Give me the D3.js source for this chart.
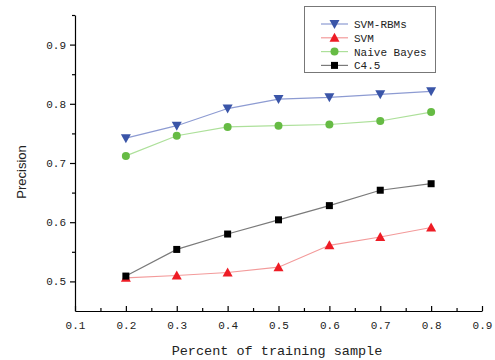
<!DOCTYPE html>
<html><head><meta charset="utf-8">
<script src="https://cdn.jsdelivr.net/npm/d3@7"></script>
<style>body{margin:0;background:#fff}svg{display:block}</style>
</head><body><svg id="c" width="495" height="360"></svg>
<script>
const xValues = [0.2, 0.3, 0.4, 0.5, 0.6, 0.7, 0.8];
const seriesNames = ["SVM-RBMs", "SVM", "Naive Bayes", "C4.5"];
const svmRbm = [0.742, 0.763, 0.792, 0.808, 0.811, 0.816, 0.821];
const svm = [0.506, 0.510, 0.515, 0.524, 0.561, 0.575, 0.591];
const naiveBayes = [0.712, 0.746, 0.761, 0.763, 0.765, 0.771, 0.786];
const c45 = [0.509, 0.554, 0.580, 0.604, 0.628, 0.654, 0.665];
const xTicks = [0.1, 0.2, 0.3, 0.4, 0.5, 0.6, 0.7, 0.8, 0.9];
const xMinor = [0.15, 0.25, 0.35, 0.45, 0.55, 0.65, 0.75, 0.85];
const yTicks = [0.5, 0.6, 0.7, 0.8, 0.9];
const yMinor = [0.55, 0.65, 0.75, 0.85, 0.95];

const svg = d3.select("#c");
const x = d3.scaleLinear().domain([0.1, 0.9]).range([75, 482]);
const y = d3.scaleLinear().domain([0.45, 0.95]).range([311, 15]);
const monoFont = "'Liberation Mono', monospace";

const series = [
  {name: seriesNames[0], values: svmRbm, line: "#8d9bd2", fill: "#3a55a8", shape: "tri-down"},
  {name: seriesNames[1], values: svm, line: "#f39a9a", fill: "#ee1c25", shape: "tri-up"},
  {name: seriesNames[2], values: naiveBayes, line: "#ade09a", fill: "#66bb44", shape: "circle"},
  {name: seriesNames[3], values: c45, line: "#7a7a7a", fill: "#000000", shape: "square"}
];

function marker(g, shape, fill) {
  if (shape === "circle") g.append("circle").attr("r", 4).attr("fill", fill);
  else if (shape === "square") g.append("rect").attr("x", -3.5).attr("y", -3.5).attr("width", 7).attr("height", 7).attr("fill", fill);
  else if (shape === "tri-up") g.append("path").attr("d", "M0,-5 L5,4 L-5,4 Z").attr("fill", fill);
  else g.append("path").attr("d", "M0,5 L5,-4 L-5,-4 Z").attr("fill", fill);
}

// axes
const xAxis = svg.append("g").attr("transform", "translate(0,311)")
  .call(d3.axisBottom(x).tickValues(xTicks).tickSizeInner(-5).tickSizeOuter(0).tickPadding(10).tickFormat(d3.format(".1f")));
svg.append("g").attr("transform", "translate(0,311)")
  .call(d3.axisBottom(x).tickValues(xMinor).tickSizeInner(-3).tickSizeOuter(0).tickFormat(""))
  .call(g => g.select(".domain").remove());
const yAxis = svg.append("g").attr("transform", "translate(75,0)")
  .call(d3.axisLeft(y).tickValues(yTicks).tickSizeInner(5).tickSizeOuter(0).tickPadding(4).tickFormat(d3.format(".1f")));
svg.append("g").attr("transform", "translate(75,0)")
  .call(d3.axisLeft(y).tickValues(yMinor).tickSizeInner(3).tickSizeOuter(0).tickFormat(""))
  .call(g => g.select(".domain").remove());
svg.selectAll(".tick text").attr("font-family", monoFont).attr("font-size", 11).attr("fill", "#222");
svg.selectAll(".domain, .tick line").attr("stroke", "#000").attr("stroke-width", 1.2);

svg.append("text").attr("x", 277).attr("y", 355).attr("text-anchor", "middle")
  .attr("font-family", monoFont).attr("font-size", 13.5).attr("fill", "#222").text("Percent of training sample");
svg.append("text").attr("transform", "translate(26,172) rotate(-90)").attr("text-anchor", "middle")
  .attr("font-family", "'Liberation Sans', Arial, sans-serif").attr("font-size", 13).attr("fill", "#222").text("Precision");

// series
const line = d3.line().x((d, i) => x(xValues[i])).y(d => y(d));
series.forEach(s => {
  svg.append("path").attr("d", line(s.values)).attr("fill", "none").attr("stroke", s.line).attr("stroke-width", 1.2);
});
series.forEach(s => {
  s.values.forEach((v, i) => {
    const g = svg.append("g").attr("transform", `translate(${x(xValues[i])},${y(v)})`);
    marker(g, s.shape, s.fill);
  });
});

// legend
const lg = svg.append("g");
lg.append("rect").attr("x", 304.5).attr("y", 6.5).attr("width", 131).attr("height", 66)
  .attr("fill", "#fff").attr("stroke", "#777").attr("stroke-width", 1);
series.forEach((s, i) => {
  const cy = 24 + i * 13.8;
  lg.append("line").attr("x1", 321).attr("x2", 348).attr("y1", cy).attr("y2", cy).attr("stroke", s.line).attr("stroke-width", 1.2);
  const g = lg.append("g").attr("transform", `translate(334.5,${cy})`);
  marker(g, s.shape, s.fill);
  lg.append("text").attr("x", 354).attr("y", cy + 4).attr("font-family", monoFont).attr("font-size", 11)
    .attr("fill", "#222").text(s.name);
});
</script></body></html>
